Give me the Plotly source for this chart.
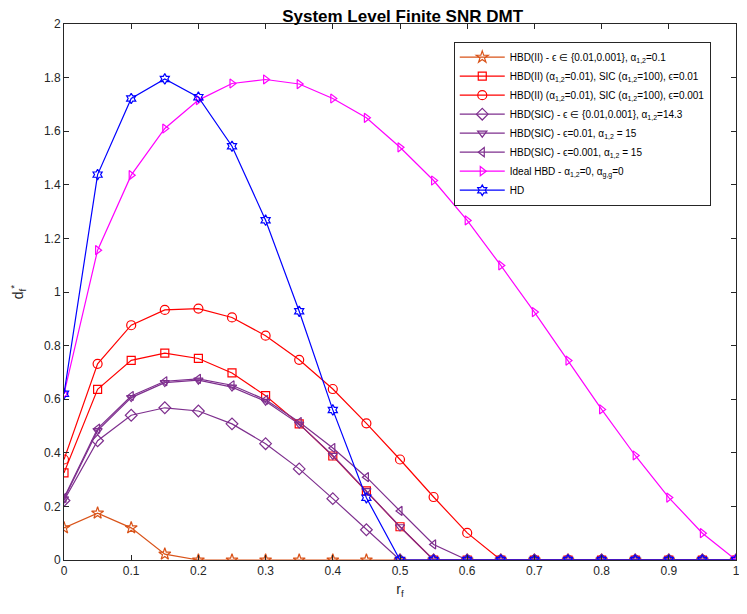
import plotly.graph_objects as go

rf = [0, 0.05, 0.1, 0.15, 0.2, 0.25, 0.3, 0.35, 0.4, 0.45, 0.5,
      0.55, 0.6, 0.65, 0.7, 0.75, 0.8, 0.85, 0.9, 0.95, 1.0]

hbd_ii_eps = [0.12, 0.175, 0.12, 0.022, 0, 0, 0, 0, 0, 0, 0,
              0, 0, 0, 0, 0, 0, 0, 0, 0, 0]
hbd_ii_sic_001 = [0.325, 0.637, 0.745, 0.772, 0.752, 0.698, 0.613, 0.508, 0.388, 0.258, 0.124,
                  0, 0, 0, 0, 0, 0, 0, 0, 0, 0]
hbd_ii_sic_0001 = [0.375, 0.732, 0.876, 0.933, 0.938, 0.905, 0.837, 0.747, 0.638, 0.51, 0.375,
                   0.235, 0.101, 0, 0, 0, 0, 0, 0, 0, 0]
hbd_sic_143 = [0.222, 0.445, 0.54, 0.568, 0.556, 0.508, 0.434, 0.34, 0.229, 0.113, 0,
               0, 0, 0, 0, 0, 0, 0, 0, 0, 0]
hbd_sic_15_001 = [0.228, 0.483, 0.606, 0.662, 0.671, 0.645, 0.592, 0.507, 0.39, 0.259, 0.124,
                  0, 0, 0, 0, 0, 0, 0, 0, 0, 0]
hbd_sic_15_0001 = [0.232, 0.49, 0.612, 0.667, 0.676, 0.652, 0.598, 0.515, 0.418, 0.309, 0.183,
                   0.058, 0, 0, 0, 0, 0, 0, 0, 0, 0]
ideal_hbd = [0.62, 1.156, 1.436, 1.61, 1.716, 1.778, 1.793, 1.776, 1.722, 1.65, 1.54,
             1.416, 1.267, 1.099, 0.925, 0.744, 0.562, 0.39, 0.233, 0.10, 0]
hd = [0.62, 1.438, 1.722, 1.795, 1.727, 1.544, 1.268, 0.928, 0.56, 0.232, 0,
      0, 0, 0, 0, 0, 0, 0, 0, 0, 0]

x_ticks = [0, 0.1, 0.2, 0.3, 0.4, 0.5, 0.6, 0.7, 0.8, 0.9, 1]
x_labels = ["0", "0.1", "0.2", "0.3", "0.4", "0.5", "0.6", "0.7", "0.8", "0.9", "1"]

orange = "#D95319"
red = "#FF0000"
purple = "#7E2F8E"
magenta = "#FF00FF"
blue = "#0000FF"

a12 = "α<sub>1,2</sub>"
series = [
    (hbd_ii_eps, f"HBD(II) - ϵ ∈ {{0.01,0.001}}, {a12}=0.1", orange, "star-open", 9),
    (hbd_ii_sic_001, f"HBD(II) ({a12}=0.01), SIC ({a12}=100), ϵ=0.01", red, "square-open", 8),
    (hbd_ii_sic_0001, f"HBD(II) ({a12}=0.01), SIC ({a12}=100), ϵ=0.001", red, "circle-open", 9),
    (hbd_sic_143, f"HBD(SIC) - ϵ ∈ {{0.01,0.001}}, {a12}=14.3", purple, "diamond-open", 9),
    (hbd_sic_15_001, f"HBD(SIC) - ϵ=0.01, {a12} = 15", purple, "triangle-down-open", 8),
    (hbd_sic_15_0001, f"HBD(SIC) - ϵ=0.001, {a12} = 15", purple, "triangle-left-open", 8),
    (ideal_hbd, f"Ideal HBD - {a12}=0, α<sub>g,g</sub>=0", magenta, "triangle-right-open", 8),
    (hd, "HD", blue, "hexagram-open", 8),
]

fig = go.Figure()
for y, name, color, symbol, size in series:
    fig.add_trace(go.Scatter(
        x=rf, y=y, name=name, mode="lines+markers",
        line=dict(color=color, width=1.2),
        marker=dict(symbol=symbol, size=size, color=color, line=dict(width=1.2, color=color)),
    ))

# page body has an 8px margin, so the figure is drawn 8px smaller and the margins shifted
fig.update_layout(
    width=739, height=606,
    margin=dict(l=56, r=7, t=16, b=54),
    paper_bgcolor="white", plot_bgcolor="white",
    font=dict(family="Liberation Sans, Arial, sans-serif", size=12, color="#262626"),
    title=dict(text="<b>System Level Finite SNR DMT</b>", x=0.534, xanchor="center",
               y=0.986, yanchor="middle", font=dict(size=17, color="black")),
    legend=dict(x=0.58, y=0.967, xanchor="left", yanchor="top",
                bgcolor="white", bordercolor="#262626", borderwidth=1,
                font=dict(size=10, color="black"), tracegroupgap=0, itemwidth=45),
    showlegend=True,
)
fig.update_xaxes(range=[0, 1], tickvals=x_ticks, ticktext=x_labels, showline=True,
                 mirror="ticks", linecolor="#262626", linewidth=1, ticks="inside", ticklen=5,
                 tickcolor="#262626", showgrid=False, zeroline=False,
                 title=dict(text="r<sub>f</sub>", standoff=6))
fig.update_yaxes(range=[0, 2], dtick=0.2, showline=True, mirror="ticks", linecolor="#262626",
                 linewidth=1, ticks="inside", ticklen=5, tickcolor="#262626", showgrid=False,
                 zeroline=False, title=dict(text="d<sub>f</sub><sup>*</sup>", standoff=18))

fig.write_html("out.html")
